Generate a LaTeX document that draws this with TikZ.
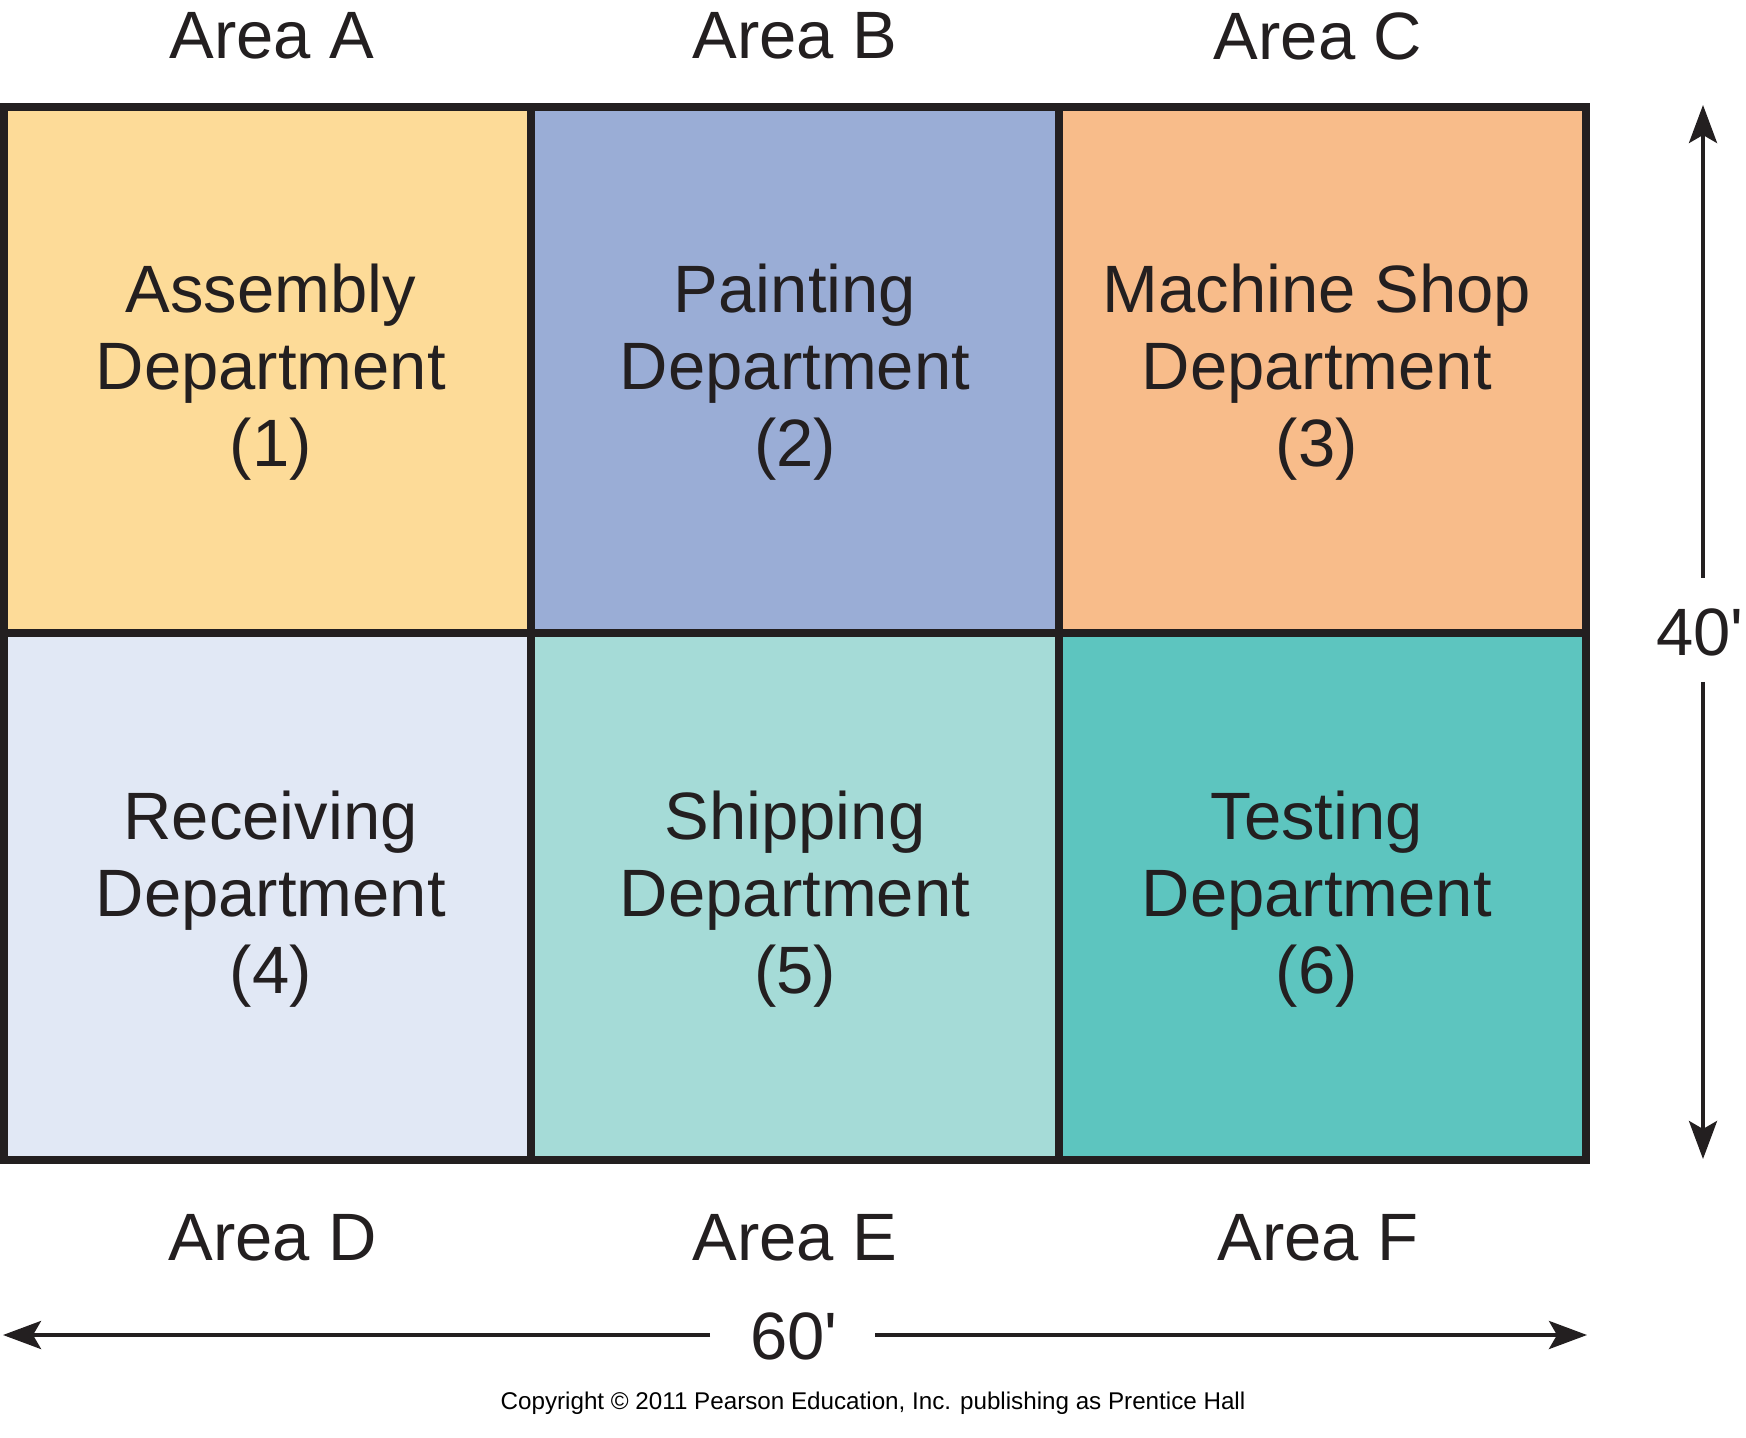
\documentclass[tikz,border=0pt]{standalone}
\usepackage{fontspec}
\setmainfont{Liberation Sans}
\usetikzlibrary{arrows.meta}
\definecolor{bord}{HTML}{231F20}
\definecolor{cA}{HTML}{FDDB98}
\definecolor{cB}{HTML}{9AADD6}
\definecolor{cC}{HTML}{F8BC8A}
\definecolor{cD}{HTML}{E1E8F5}
\definecolor{cE}{HTML}{A5DBD7}
\definecolor{cF}{HTML}{5DC5BF}
\tikzset{
  cell/.style={draw=bord, line width=4pt, minimum width=263.67pt, minimum height=263.25pt,
    inner sep=0pt},
  dept/.style={inner sep=0pt, align=center, text=bord, font=\fontsize{33.5}{38.5}\selectfont},
  lbl/.style={inner sep=0pt, text=bord, font=\fontsize{33.5}{38.5}\selectfont},
  dimarrow/.style={draw=bord, line width=2pt, -{Stealth[length=19pt,width=14pt,inset=4pt]}}
}
\begin{document}
\begin{tikzpicture}[x=0.5pt,y=-0.5pt]
\useasboundingbox (0,0) rectangle (1746,1438);
% cells
\node[cell, fill=cA] (assembly) at (267.67,370.25) {};
\node[cell, fill=cB] (painting) at (795,370.25) {};
\node[cell, fill=cC] (machine) at (1322.33,370.25) {};
\node[cell, fill=cD] (receiving) at (267.67,896.75) {};
\node[cell, fill=cE] (shipping) at (795,896.75) {};
\node[cell, fill=cF] (testing) at (1322.33,896.75) {};
% cell texts
\node[dept] (assemblyT) at ([xshift=1.5pt,yshift=-1pt]assembly.center) {Assembly\\Department\\(1)};
\node[dept] (paintingT) at ([yshift=-1pt]painting.center) {Painting\\Department\\(2)};
\node[dept] (machineT) at ([xshift=-2.8pt,yshift=-1pt]machine.center) {Machine Shop\\Department\\(3)};
\node[dept] (receivingT) at ([xshift=1.5pt,yshift=-1pt]receiving.center) {Receiving\\Department\\(4)};
\node[dept] (shippingT) at ([yshift=-1pt]shipping.center) {Shipping\\Department\\(5)};
\node[dept] (testingT) at ([xshift=-2.8pt,yshift=-1pt]testing.center) {Testing\\Department\\(6)};
% area labels
\node[lbl] (areaA) at (272,36) {Area A};
\node[lbl] (areaB) at (795,36) {Area B};
\node[lbl] (areaC) at (1318,36) {Area C};
\node[lbl] (areaD) at (273,1238) {Area D};
\node[lbl] (areaE) at (795,1238) {Area E};
\node[lbl] (areaF) at (1318,1238) {Area F};
% dimensions
\node[lbl] (l40) at (1700,632) {40\textquotesingle};
\coordinate (vt1) at (1703,578);
\coordinate (vtop) at (1703,105);
\coordinate (vb1) at (1703,682);
\coordinate (vbot) at (1703,1159);
\draw[dimarrow] (vt1) -- (vtop);
\draw[dimarrow] (vb1) -- (vbot);
\node[lbl] (l60) at (794,1336) {60\textquotesingle};
\coordinate (hl1) at (710,1335);
\coordinate (hleft) at (3,1335);
\coordinate (hr1) at (875,1335);
\coordinate (hright) at (1587,1335);
\draw[dimarrow] (hl1) -- (hleft);
\draw[dimarrow] (hr1) -- (hright);
% copyright
\node[inner sep=0pt, text=black, font=\fontsize{12.1}{14}\selectfont] (copy) at (873,1403) {Copyright © 2011 Pearson Education, Inc. publishing as Prentice Hall};
\end{tikzpicture}
\end{document}
